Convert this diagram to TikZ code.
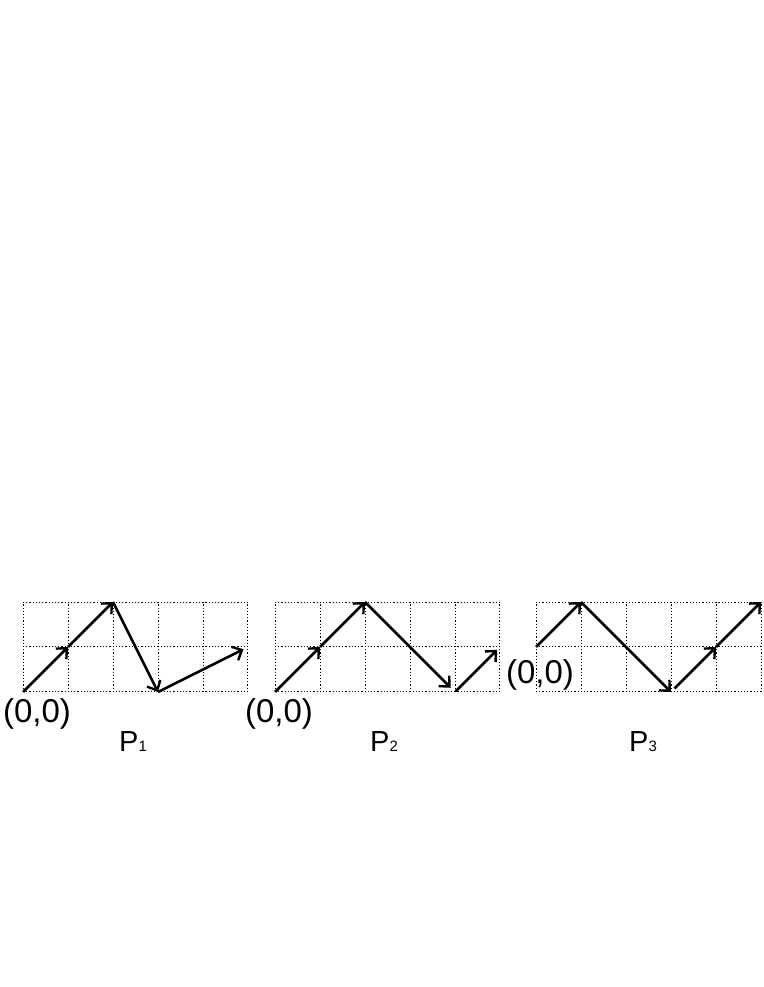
\documentclass[tikz,border=0pt]{standalone}
\usepackage{fontspec}
\setmainfont{Liberation Sans}
\usetikzlibrary{arrows.meta}
\tikzset{
  gridline/.style={line width=1pt, dash pattern=on 1.2pt off 2pt, black, xstep=45pt, ystep=45pt},
  arr/.style={line width=2.6pt, -{Straight Barb[length=8pt,width=15pt,line width=2.4pt]}},
  origin/.style={inner sep=0pt, font=\fontsize{33}{33}\selectfont},
  plabel/.style={inner sep=0pt, anchor=base west, font=\fontsize{29}{29}\selectfont},
}
\newcommand{\subn}[1]{{\fontsize{15}{15}\selectfont #1}}
\begin{document}
\begin{tikzpicture}[x=1pt,y=1pt]
\useasboundingbox (0,0) rectangle (763,987);
% Panel 1
\begin{scope}[shift={(23,295)}, x=45pt, y=45pt]
  \draw[gridline] (0,0) grid (5,2);
  \coordinate (a0) at (0,0);
  \coordinate (a1) at (1,1);
  \coordinate (a2) at (2,2);
  \coordinate (a3) at (3,0);
  \coordinate (a4) at (5,1);
  \draw[arr] (a0) -- (a1);
  \draw[arr] (a1) -- (a2);
  \draw[arr] (a2) -- (a3);
  \draw[arr, shorten >=5pt] (a3) -- (a4);
\end{scope}
% Panel 2
\begin{scope}[shift={(275,295)}, x=45pt, y=45pt]
  \draw[gridline] (0,0) grid (5,2);
  \coordinate (b0) at (0,0);
  \coordinate (b1) at (1,1);
  \coordinate (b2) at (2,2);
  \coordinate (b3) at (4,0);
  \coordinate (b4) at (5,1);
  \draw[arr] (b0) -- (b1);
  \draw[arr] (b1) -- (b2);
  \draw[arr, shorten >=6pt] (b2) -- (b3);
  \draw[arr, shorten <=1pt, shorten >=4pt] (b3) -- (b4);
\end{scope}
% Panel 3
\begin{scope}[shift={(536,295)}, x=45pt, y=45pt]
  \draw[gridline] (0,0) grid (5,2);
  \coordinate (c0) at (0,1);
  \coordinate (c1) at (1,2);
  \coordinate (c2) at (3,0);
  \coordinate (c3) at (4,1);
  \coordinate (c4) at (5,2);
  \draw[arr] (c0) -- (c1);
  \draw[arr] (c1) -- (c2);
  \draw[arr, shorten <=5pt] (c2) -- (c3);
  \draw[arr] (c3) -- (c4);
\end{scope}
% Labels
\node[origin] (o1) at (37,273) {(0,0)};
\node[origin] (o2) at (279,273) {(0,0)};
\node[origin] (o3) at (540,312) {(0,0)};
\node[plabel] (l1) at (119,235) {P\subn{1}};
\node[plabel] (l2) at (370,235) {P\subn{2}};
\node[plabel] (l3) at (629,235) {P\subn{3}};
\end{tikzpicture}
\end{document}
